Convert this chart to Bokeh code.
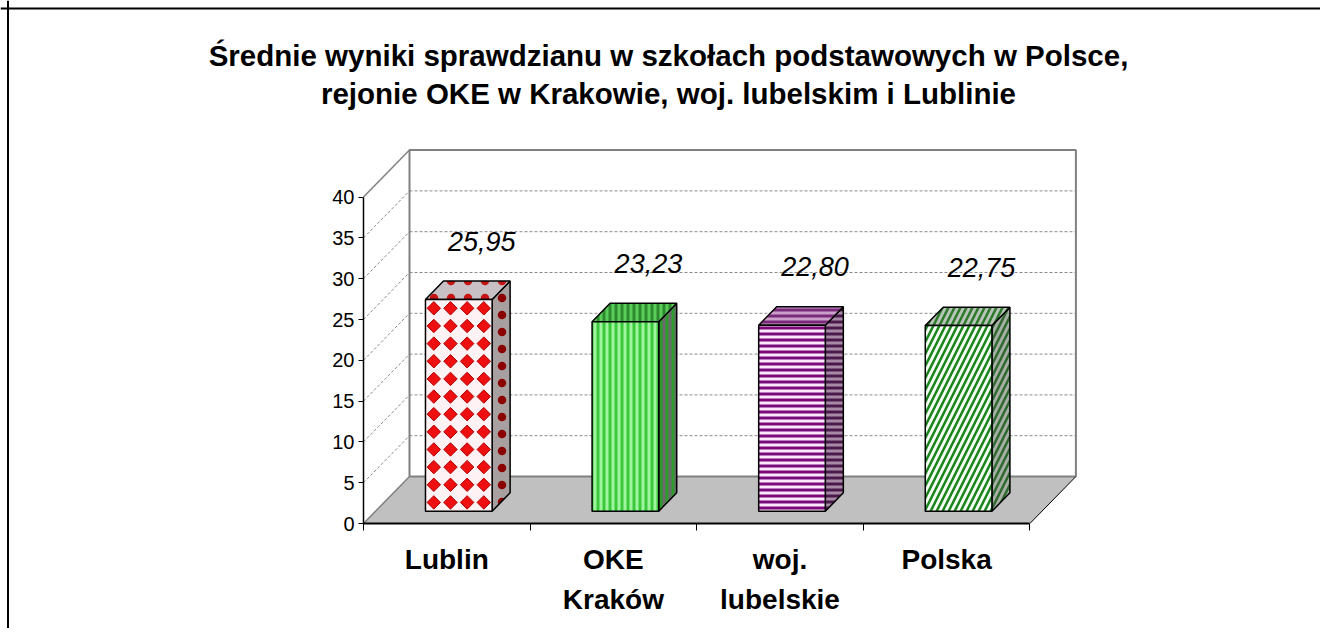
import math
from bokeh.plotting import figure
from bokeh.models import ColumnDataSource, LinearAxis, FixedTicker, Range1d, Label, Span
from bokeh.embed import file_html
from bokeh.resources import INLINE
from bokeh.core.properties import value

# ---------------- data ----------------
categories = ["Lublin", "OKE\nKraków", "woj.\nlubelskie", "Polska"]
scores = [25.95, 23.23, 22.80, 22.75]
score_labels = ["25,95", "23,23", "22,80", "22,75"]
y_ticks = [0, 5, 10, 15, 20, 25, 30, 35, 40]
title_lines = ["Średnie wyniki sprawdzianu w szkołach podstawowych w Polsce,",
               "rejonie OKE w Krakowie, woj. lubelskim i Lublinie"]

# ---------------- styles ----------------
front_fill = ["#fff2f4", "#9ef59e", "#fbe6fb", "#f4fff4"]
front_hatch = ["#e60000", "#3cc83c", "#7a0a7a", "#1a841a"]
side_fill = ["#a8a0a0", "#2f9a2f", "#a88aa8", "#a6aea6"]
side_hatch = ["#8a0000", "#6a6a6a", "#4a1a4a", "#2e6a2e"]
top_fill = ["#c8c0c4", "#5acc5a", "#caa0ca", "#b8c4b8"]
top_hatch = ["#c81414", "#2e8a2e", "#7a2a7a", "#2a7a2a"]
front_patterns = [" ", "vertical_line", "horizontal_line", "right_diagonal_line"]
other_patterns = ["dot", "vertical_line", "horizontal_line", "right_diagonal_line"]
hatch_scales = [17, 6, 6, 12]
hatch_weights = [5, 3, 3, 2.5]
DIAMOND_BAR = 0            # bar whose front face carries the diamond motif
DIAMOND_COLS, DIAMOND_ROW_PX = 4, 16.3

FONT = "Liberation Sans"
W, H = 1320, 628
OX, OY = 363, 523            # pixel position of (first category edge, value 0)
PX_CAT, PX_VAL = 166.6, 8.16  # pixels per category / per value unit
DEPTH_PX_X, DEPTH_PX_Y = 46, 47
BAR_LO, BAR_HI = 0.3, 0.7
F0, F1 = 12 / 46, 30 / 46
Y_TOP = 40
n = len(categories)

x_range = Range1d(-OX / PX_CAT, (W - OX) / PX_CAT)
y_range = Range1d(-(H - OY) / PX_VAL, OY / PX_VAL)
dx = DEPTH_PX_X / PX_CAT
dy = DEPTH_PX_Y / PX_VAL

p = figure(width=W, height=H, x_range=x_range, y_range=y_range,
           x_axis_type=None, y_axis_type=None, toolbar_location=None,
           output_backend="svg", min_border=0)
p.outline_line_color = None
p.background_fill_color = "white"
p.border_fill_color = "white"

# ---- walls ----
p.patch([0, dx, dx, 0], [0, dy, Y_TOP + dy, Y_TOP], fill_color="white", line_color=None)
p.patch([dx, n + dx, n + dx, dx], [dy, dy, Y_TOP + dy, Y_TOP + dy], fill_color="white", line_color=None)
# floor
p.patch([0, n, n + dx, dx], [0, 0, dy, dy], fill_color="#c0c0c0", line_color=None)

# gridlines (back wall + side wall)
gxs, gys = [], []
for t in y_ticks[1:-1]:
    gxs.append([dx, n + dx]); gys.append([t + dy, t + dy])
    gxs.append([0, dx]); gys.append([t, t + dy])
p.multi_line(gxs, gys, line_color="#8c8c8c", line_width=1, line_dash="3 2")

# wall / floor edges
edge_src = ColumnDataSource(dict(
    xs=[[dx, dx, n + dx, n + dx], [dx, n + dx], [0, dx], [0, dx], [n, n + dx]],
    ys=[[dy, Y_TOP + dy, Y_TOP + dy, dy], [dy, dy], [Y_TOP, Y_TOP + dy], [0, dy], [0, dy]],
    c=["#808080", "#808080", "#808080", "#808080", "#000000"],
    w=[2, 2, 1.5, 1.5, 1],
))
p.multi_line("xs", "ys", source=edge_src, line_color="c", line_width="w")

# ---- bars ----
fx, fy, fc, hc, pat, hs, hw = [], [], [], [], [], [], []
for i, v in enumerate(scores):
    x0, x1 = i + BAR_LO, i + BAR_HI
    # side face
    fx.append([x1 + F0 * dx, x1 + F1 * dx, x1 + F1 * dx, x1 + F0 * dx])
    fy.append([F0 * dy, F1 * dy, v + F1 * dy, v + F0 * dy])
    fc.append(side_fill[i]); hc.append(side_hatch[i]); pat.append(other_patterns[i])
    # top face
    fx.append([x0 + F0 * dx, x1 + F0 * dx, x1 + F1 * dx, x0 + F1 * dx])
    fy.append([v + F0 * dy, v + F0 * dy, v + F1 * dy, v + F1 * dy])
    fc.append(top_fill[i]); hc.append(top_hatch[i]); pat.append(other_patterns[i])
    # front face
    fx.append([x0 + F0 * dx, x1 + F0 * dx, x1 + F0 * dx, x0 + F0 * dx])
    fy.append([F0 * dy, F0 * dy, v + F0 * dy, v + F0 * dy])
    fc.append(front_fill[i]); hc.append(front_hatch[i]); pat.append(front_patterns[i])
    hs += [hatch_scales[i]] * 3
    hw += [hatch_weights[i]] * 3

bar_src = ColumnDataSource(dict(xs=fx, ys=fy, fill=fc, hc=hc, pat=pat, hs=hs, hw=hw))
p.patches("xs", "ys", source=bar_src, fill_color="fill", hatch_pattern="pat",
          hatch_color="hc", hatch_scale="hs", hatch_weight="hw",
          line_color="black", line_width=1.5)

# diamond motif on the first bar's front face
i = DIAMOND_BAR
v = scores[i]
xl, xr = i + BAR_LO + F0 * dx, i + BAR_HI + F0 * dx
yb, yt = F0 * dy, v + F0 * dy
n_rows = int(((yt - yb) * PX_VAL) // DIAMOND_ROW_PX)
dmx, dmy = [], []
for r in range(n_rows):
    for c in range(DIAMOND_COLS):
        dmx.append(xl + (c + 0.5) * (xr - xl) / DIAMOND_COLS)
        dmy.append(yb + (r + 0.5) * (yt - yb) / n_rows)
p.scatter(dmx, dmy, marker="square", angle=math.pi / 4, size=9.5,
          fill_color="#ee1010", line_color="#b00000", line_width=1)

# data labels
lab_src = ColumnDataSource(dict(
    x=[k + 0.5 + F1 * dx for k in range(n)],
    y=[s + F1 * dy for s in scores],
    t=score_labels,
))
p.text("x", "y", text="t", source=lab_src, text_font=value(FONT), text_font_style="italic",
       text_font_size="27px", text_align="center", text_baseline="middle",
       x_offset=5, y_offset=-40, text_color="black")

# ---- axes ----
yaxis = LinearAxis(fixed_location=0, bounds=(0, Y_TOP), ticker=FixedTicker(ticks=y_ticks),
                   axis_line_color="black", axis_line_width=1.5,
                   major_tick_in=0, major_tick_out=5, major_tick_line_color="black",
                   minor_tick_line_color=None,
                   major_label_text_font=FONT, major_label_text_font_size="20px",
                   major_label_text_color="black", major_label_standoff=4)
p.add_layout(yaxis, "left")

xtick = LinearAxis(fixed_location=0, bounds=(0, n), ticker=FixedTicker(ticks=list(range(n + 1))),
                   axis_line_color="black", axis_line_width=2,
                   major_tick_in=0, major_tick_out=7, major_tick_line_color="black",
                   minor_tick_line_color=None, major_label_text_color=None)
p.add_layout(xtick, "below")

xcat = LinearAxis(fixed_location=0, ticker=FixedTicker(ticks=[k + 0.5 for k in range(n)]),
                  major_label_overrides={k + 0.5: c for k, c in enumerate(categories)},
                  axis_line_color=None, major_tick_line_color=None, minor_tick_line_color=None,
                  major_tick_in=0, major_tick_out=0,
                  major_label_text_font=FONT, major_label_text_font_style="bold",
                  major_label_text_font_size="28px", major_label_text_color="black",
                  major_label_standoff=20, major_label_text_line_height=1.3)
p.add_layout(xcat, "below")

# ---- title ----
for k, line in enumerate(title_lines):
    p.add_layout(Label(x=668, y=H - (55 + 38 * k), x_units="screen", y_units="screen",
                       text=line, text_align="center", text_baseline="middle",
                       text_font=FONT, text_font_style="bold", text_font_size="29.5px",
                       text_color="black"))

# ---- outer frame (left & top edges visible) ----
p.add_layout(Span(location=x_range.start + 7.5 / PX_CAT, dimension="height",
                  line_color="black", line_width=2))
p.add_layout(Span(location=y_range.end - 8 / PX_VAL, dimension="width",
                  line_color="black", line_width=2))

open("out.html", "w").write(file_html(p, INLINE))
